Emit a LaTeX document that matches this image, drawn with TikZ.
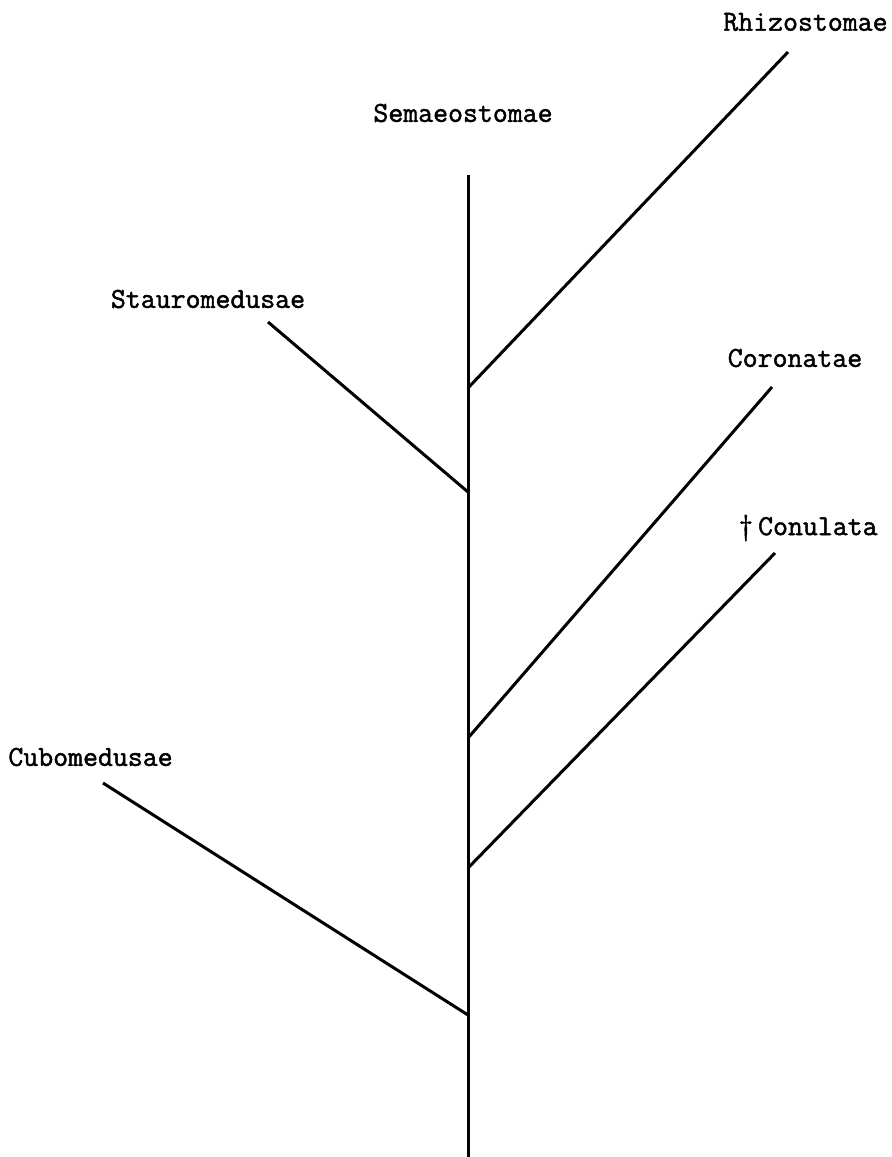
\documentclass[tikz,border=0pt]{standalone}
\usepackage{fontspec}
\newfontfamily\typewriter{Latin Modern Mono}[FakeBold=1.6]
\usepackage{tikz}
\usetikzlibrary{calc}

\begin{document}
\begin{tikzpicture}[x=0.5pt,y=-0.5pt]
\tikzset{taxon/.style={font=\typewriter\fontsize{14.5}{16}\selectfont, inner sep=0pt}}
\useasboundingbox (0,0) rectangle (892,1157);
%\draw (0,0) rectangle (892,1157);
  \path
    (468,1157) coordinate (Root)
    (468,175) coordinate (Top)
    (468,1015) coordinate (Cub)
    (468,868) coordinate (Con)
    (468,738) coordinate (Cor)
    (468,492) coordinate (Sta)
    (468,388) coordinate (Rhi)
    (103,783) coordinate (CubTip)
    (775,553) coordinate (ConTip)
    (772,387) coordinate (CorTip)
    (268,322) coordinate (StaTip)
    (788,52) coordinate (RhiTip)
  ;
\begin{scope}[line width=1.5pt]
\draw (Root) -- (Top);
\draw (Cub) -- (CubTip);
\draw (Con) -- (ConTip);
\draw (Cor) -- (CorTip);
\draw (Sta) -- (StaTip);
\draw (Rhi) -- (RhiTip);
\end{scope}
\node[taxon,anchor=east] (rhizo) at (888,22) {Rhizostomae};
\node[taxon] (semae) at (463,113) {Semaeostomae};
\node[taxon] (stauro) at (208,299) {Stauromedusae};
\node[taxon] (coron) at (795,358) {Coronatae};
\node[taxon] (conul) at (808,528) {\textdagger\,Conulata};
\node[taxon,anchor=west] (cubo) at (8,757) {Cubomedusae};
\end{tikzpicture}
\end{document}
